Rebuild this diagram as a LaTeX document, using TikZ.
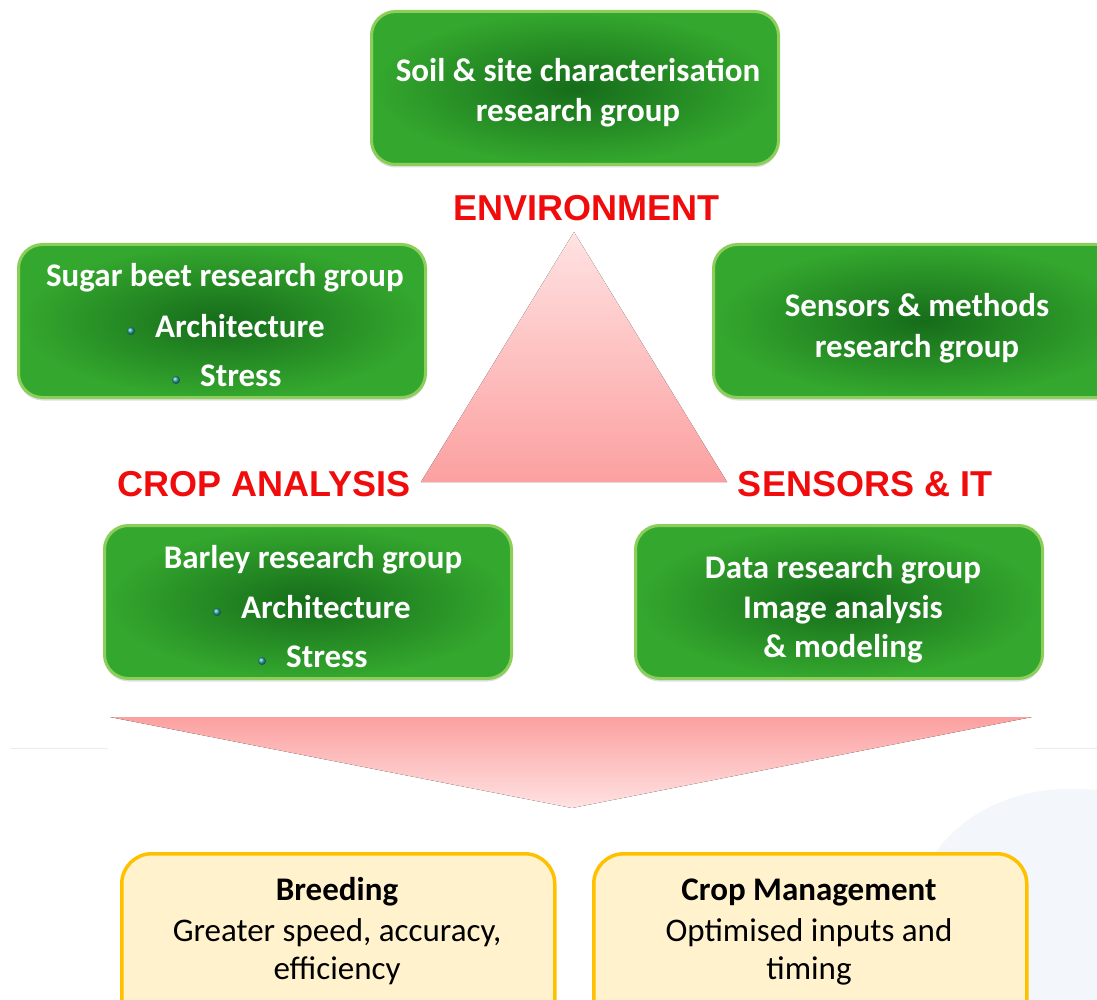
\documentclass[tikz,border=0pt]{standalone}
\usepackage{fontspec}
\setmainfont{Carlito}
\newfontfamily\arialf{Liberation Sans}
\usetikzlibrary{shadows}
\definecolor{gdark}{RGB}{22,108,26}
\definecolor{glight}{RGB}{52,168,46}
\definecolor{gborder}{RGB}{140,206,90}
\definecolor{labred}{RGB}{240,12,12}
\definecolor{cream}{RGB}{255,242,204}
\definecolor{gold}{RGB}{255,192,0}
\definecolor{tritop}{RGB}{255,226,226}
\definecolor{tribot}{RGB}{252,160,160}
\definecolor{bcol}{RGB}{40,160,160}
\definecolor{faint}{RGB}{236,236,236}
\definecolor{blob}{RGB}{243,246,251}
\tikzset{
  gbox/.style={draw=gborder, line width=3pt, rounded corners=24pt,
    inner color=gdark, outer color=glight, anchor=north west,
    minimum width=407pt, minimum height=153pt,
    drop shadow={opacity=0.25, shadow xshift=0pt, shadow yshift=-3pt}},
  ybox/.style={draw=gold, fill=cream, line width=3.5pt, rounded corners=30pt,
    anchor=north west, minimum width=433pt, minimum height=180pt},
  gtxt/.style={text=white, font=\fontsize{33}{33}\selectfont\bfseries, anchor=base, inner sep=0pt},
  gtxtl/.style={gtxt, anchor=base west},
  lab/.style={text=labred, font=\arialf\fontsize{36}{36}\selectfont\bfseries, anchor=base, inner sep=0pt},
  ytxt/.style={text=black, font=\fontsize{33}{33}\selectfont, anchor=base, inner sep=0pt},
  ytxtb/.style={ytxt, font=\fontsize{33}{33}\selectfont\bfseries},
  bul/.style={circle, inner sep=0pt, minimum size=8pt, ball color=bcol},
}
\begin{document}
\begin{tikzpicture}[x=1pt,y=-1pt]
\useasboundingbox (0,0) rectangle (1097,1000);
\clip (0,0) rectangle (1097,1000);
% faint background
\fill[blob] (1097,790) .. controls (1000,780) and (930,830) .. (915,900) .. controls (905,950) and (920,990) .. (935,1000) -- (1097,1000) -- cycle;
\draw[faint, line width=1pt] (10,748) -- (108,748);
\draw[faint, line width=1pt] (1035,748) -- (1097,748);

% triangles
\fill[top color=tritop, bottom color=tribot] (574,232) -- (727,482) -- (421,482) -- cycle;
\fill[top color=tribot, bottom color=tritop] (110,717) -- (1032,717) -- (572,808) -- cycle;

% green boxes
\node[gbox] (soil) at (370,10) {};
\node[gbox] (beet) at (17,243) {};
\node[gbox, minimum width=420pt] (sens) at (712,243) {};
\node[gbox] (barley) at (103,524) {};
\node[gbox] (data) at (634,524) {};

% texts
\node[gtxt] (soil1) at (578,82) {Soil \& site characterisation};
\node[gtxt] (soil2) at (578,122) {research group};

\node[gtxt] (beet1) at (225,287) {Sugar beet research group};
\node[bul] (beetb1) at (131,331) {};
\node[gtxtl] (beet2) at (155,337) {Architecture};
\node[bul] (beetb2) at (176,380) {};
\node[gtxtl] (beet3) at (200,386) {Stress};

\node[gtxt] (sens1) at (917,316) {Sensors \& methods};
\node[gtxt] (sens2) at (917,357) {research group};

\node[gtxt] (bar1) at (313,568) {Barley research group};
\node[bul] (barb1) at (217,612) {};
\node[gtxtl] (bar2) at (241,618) {Architecture};
\node[bul] (barb2) at (262,661) {};
\node[gtxtl] (bar3) at (286,667) {Stress};

\node[gtxt] (data1) at (843,578) {Data research group};
\node[gtxt] (data2) at (843,618) {Image analysis};
\node[gtxt] (data3) at (843,657) {\& modeling};

% red labels
\node[lab] (env) at (586,221) {ENVIRONMENT};
\node[lab] (crop) at (264,496) {CROP ANALYSIS};
\node[lab] (sit) at (865,496) {SENSORS \& IT};

% bottom boxes
\node[ybox] (breed) at (120,852) {};
\node[ybox] (mgmt) at (592,852) {};
\node[ytxtb] (breed1) at (337,900) {Breeding};
\node[ytxt] (breed2) at (337,941) {Greater speed, accuracy,};
\node[ytxt] (breed3) at (337,979) {efficiency};
\node[ytxtb] (mgmt1) at (809,900) {Crop Management};
\node[ytxt] (mgmt2) at (809,941) {Optimised inputs and};
\node[ytxt] (mgmt3) at (809,979) {timing};
\end{tikzpicture}
\end{document}
